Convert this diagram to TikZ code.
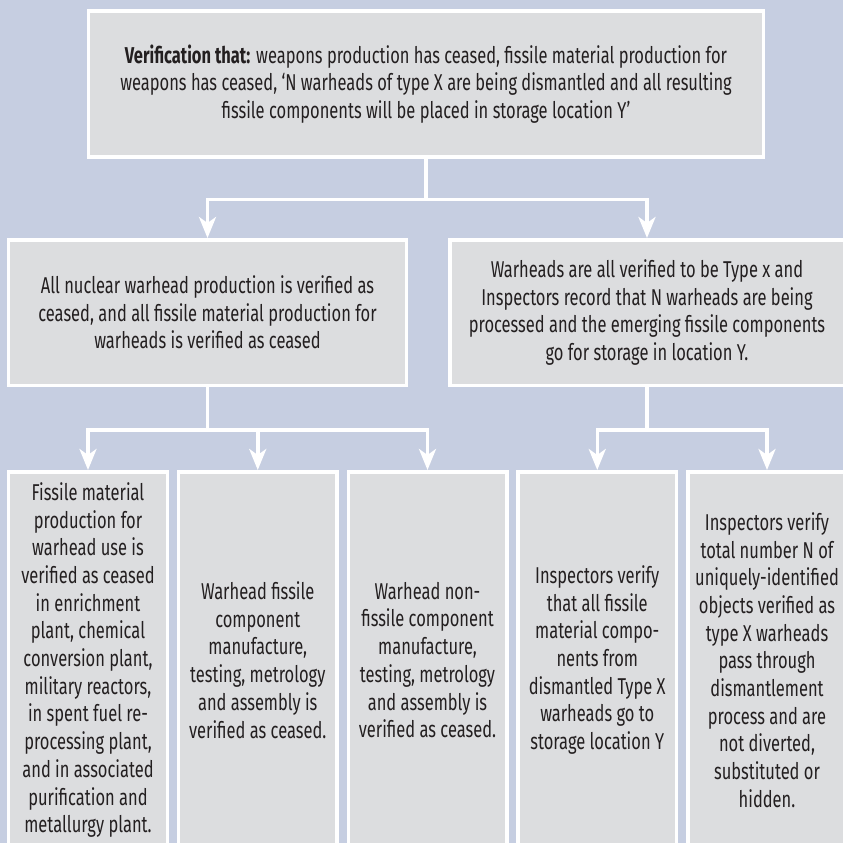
\documentclass[tikz,border=0pt]{standalone}
\usepackage{fontspec}
\setmainfont{Fira Sans}[FakeStretch=0.72]
\usepackage{xcolor}
\usepackage{tikz}
\usetikzlibrary{arrows.meta}
\usetikzlibrary{calc}
\usetikzlibrary{positioning}

\definecolor{bgblue}{RGB}{198,206,225}
\definecolor{boxgray}{RGB}{220,221,223}
\definecolor{txtgray}{RGB}{35,31,32}

\begin{document}
\begin{tikzpicture}[x=1bp,y=-1bp,>={Stealth[length=21bp,width=17bp,inset=6bp]},line width=3.5bp,line join=miter]
 				 \tikzstyle{every node}=[fill=boxgray, draw=white, text=txtgray, align=center, line width=3.5bp,
 				   font=\fontsize{22.9bp}{27.7bp}\selectfont]
 				 \tikzstyle{wide box}=[minimum height=145.5bp]
 				 \tikzstyle{tall box}=[minimum width=158.5bp, minimum height=376.5bp, inner sep=1bp]
 				 \tikzstyle{link}=[draw=white, line width=3.5bp]

 				 \useasboundingbox (0,0) rectangle (843,843);
 				 \fill[bgblue] (0,0) rectangle (843,843);

 					 \node[wide box, minimum width=674.5bp] (T) at (426,84)
 					   {\textbf{Verification that:} weapons production has ceased, fissile material production for\\
 					    weapons has ceased, ‘N warheads of type X are being dismantled and all resulting\\
 					    fissile components will be placed in storage location Y’};
  					 \node[wide box, minimum width=397.5bp] (L) at (207.5,312.5)
  					   {All nuclear warhead production is verified as\\
  					    ceased, and all fissile material production for\\
  					    warheads is verified as ceased};
  					 \node[wide box, minimum width=394.5bp] (R) at (647,312.5)
  					   {Warheads are all verified to be Type x and\\
  					    Inspectors record that N warheads are being\\
  					    processed and the emerging fissile components\\
  					    go for storage in location Y.};

  					 \node[tall box] (B1) at (88,660)
  					   {Fissile material\\production for\\warhead use is\\verified as ceased\\in enrichment\\plant, chemical\\
  					    conversion plant,\\military reactors,\\in spent fuel re-\\processing plant,\\and in associated\\
  					    purification and\\metallurgy plant.};
  					 \node[tall box, right of=B1, node distance=169.75bp] (B2)
  					   {Warhead fissile\\component\\manufacture,\\testing, metrology\\and assembly is\\verified as ceased.};
  					 \node[tall box, right of=B2, node distance=169.75bp] (B3)
  					   {Warhead non-\\fissile component\\manufacture,\\testing, metrology\\and assembly is\\verified as ceased.};
  					 \node[tall box, right of=B3, node distance=169.75bp] (B4)
  					   {Inspectors verify\\that all fissile\\material compo-\\nents from\\dismantled Type X\\warheads go to\\storage location Y};
  					 \node[tall box, right of=B4, node distance=169.75bp] (B5)
  					   {Inspectors verify\\total number N of\\uniquely-identified\\objects verified as\\type X warheads\\pass through\\dismantlement\\process and are\\not diverted,\\substituted or\\hidden.};

 					  % junctions
 					  \coordinate (j1) at ($(T.south)+(0,41)$);
 					  \coordinate (j2) at ($(L.south)+(0,43)$);
 					  \coordinate (j3) at ($(R.south)+(0,43)$);

 					  \path[link]
 					  			(T.south) edge (j1)
 					  			(L.south) edge (j2)
 					  			(R.south) edge (j3);
 					  \draw[link,->] (j1) -| (L.north);
 					  \draw[link,->] (j1) -| (R.north);
 					  \draw[link,->] (j2) -| (B1.north);
 					  \draw[link,->] (j2) -| (B2.north);
 					  \draw[link,->] (j2) -| (B3.north);
 					  \draw[link,->] (j3) -| (B4.north);
 					  \draw[link,->] (j3) -| (B5.north);
				\end{tikzpicture}
\end{document}
